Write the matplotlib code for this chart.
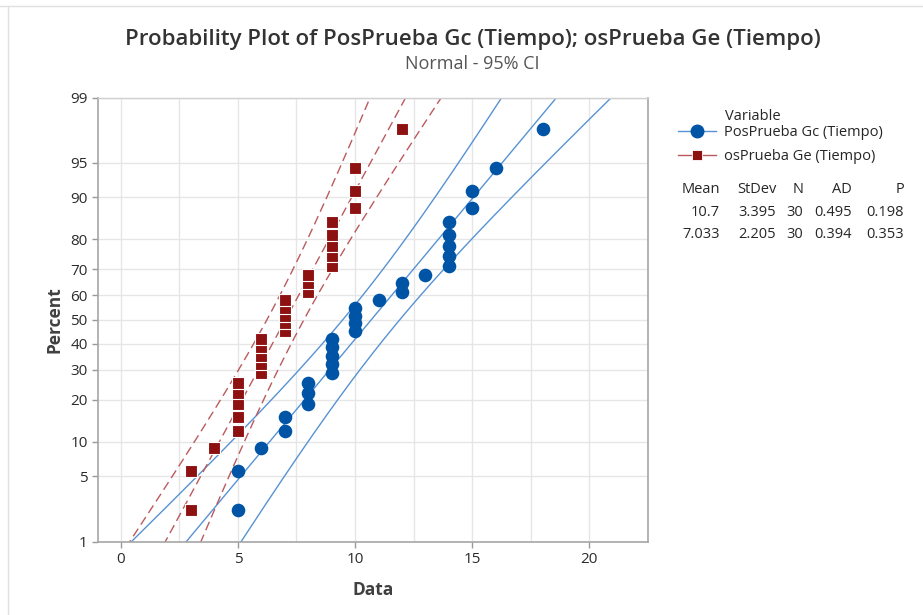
import numpy as np
import matplotlib
matplotlib.use('Agg')
import matplotlib.pyplot as plt
from matplotlib.lines import Line2D
from statistics import NormalDist

plt.rcParams['font.family'] = ['Open Sans', 'DejaVu Sans']

# Datos (30 valores por variable)
gc_values = [5, 5, 6, 7, 7, 8, 8, 8, 9, 9, 9, 9, 9, 10, 10, 10, 10, 11, 12, 12,
             13, 14, 14, 14, 14, 14, 15, 15, 16, 18]
ge_values = [3, 3, 4, 5, 5, 5, 5, 5, 6, 6, 6, 6, 6, 7, 7, 7, 7, 7, 8, 8,
             8, 9, 9, 9, 9, 9, 10, 10, 10, 12]
series_names = ['PosPrueba Gc (Tiempo)', 'osPrueba Ge (Tiempo)']
stats_header = ['Mean', 'StDev', 'N', 'AD', 'P']
stats_rows = [['10.7', '3.395', '30', '0.495', '0.198'],
              ['7.033', '2.205', '30', '0.394', '0.353']]
y_ticks = [1, 5, 10, 20, 30, 40, 50, 60, 70, 80, 90, 95, 99]
x_ticks = [0, 5, 10, 15, 20]

nd = NormalDist()
_ppf = np.vectorize(lambda p: nd.inv_cdf(min(max(p / 100.0, 1e-9), 1 - 1e-9)),
                    otypes=[float])
_cdf = np.vectorize(lambda z: nd.cdf(z) * 100.0, otypes=[float])


def forward(p):
    return _ppf(np.asarray(p, dtype=float))


def inverse(z):
    return _cdf(np.asarray(z, dtype=float))


fig = plt.figure(figsize=(9.23, 6.15), dpi=100)
ax = fig.add_axes([98 / 923, 1 - 541.5 / 615, 550 / 923, 444 / 615])
ax.set_yscale('function', functions=(forward, inverse))

styles = [
    dict(mc='#0054a6', lc='#5793d3', marker='o', ms=9.8, ls='-'),
    dict(mc='#8e1111', lc='#bb5a5e', marker='s', ms=8, ls=(0, (6.5, 3.5))),
]

pgrid = np.linspace(0.2, 99.8, 400)
zgrid = forward(pgrid)

for vals, st in zip([gc_values, ge_values], styles):
    data = np.sort(np.array(vals, dtype=float))
    n = len(data)
    mu = data.mean()
    sd = data.std(ddof=1)
    # posiciones de Minitab (rangos medianos)
    pct = (np.arange(1, n + 1) - 0.3) / (n + 0.4) * 100
    fit = mu + zgrid * sd
    half = 1.96 * sd * np.sqrt(1.0 / n + zgrid ** 2 / (2 * n))
    for xs in (fit - half, fit, fit + half):
        ax.plot(xs, pgrid, color=st['lc'], lw=1.0, ls=st['ls'], zorder=2)
    ax.plot(data, pct, ls='none', marker=st['marker'], ms=st['ms'],
            mfc=st['mc'], mec='white' if st['marker'] == 's' else st['mc'],
            mew=0.8 if st['marker'] == 's' else 0, zorder=3)

ax.set_xlim(-0.97, 22.1)
ax.set_ylim(1, 99)
ax.set_yticks(y_ticks)
ax.set_yticklabels([str(t) for t in y_ticks])
ax.yaxis.set_minor_locator(matplotlib.ticker.NullLocator())
ax.set_xticks(x_ticks)
ax.set_xticks(np.arange(0, 22.6, 2.5), minor=True)
ax.grid(True, which='major', color='#e6e6e6', lw=1.0, zorder=0)
ax.grid(True, which='minor', axis='x', color='#e6e6e6', lw=1.0, zorder=0)
ax.set_axisbelow(True)
ax.tick_params(axis='both', which='major', labelsize=11, colors='#999999',
               labelcolor='#2b2b2b', length=4, width=1)
ax.tick_params(axis='x', which='minor', length=0)
for side in ['left', 'bottom', 'right']:
    ax.spines[side].set_color('#a6a6a6')
    ax.spines[side].set_linewidth(1.2)
ax.spines['top'].set_color('#d0d0d0')
ax.spines['top'].set_linewidth(1.0)

ax.set_xlabel('Data', fontsize=12.5, fontweight='bold', color='#404040', labelpad=10)
ax.set_ylabel('Percent', fontsize=12.5, fontweight='bold', color='#404040', labelpad=5)

fig.text(0.512, 1 - 40 / 615, 'Probability Plot of PosPrueba Gc (Tiempo); osPrueba Ge (Tiempo)',
         ha='center', va='center', fontsize=16, fontweight='semibold', color='#333333')
fig.text(0.512, 1 - 64 / 615, 'Normal - 95% CI', ha='center', va='center',
         fontsize=13, color='#555555')

# Leyenda
handles = [Line2D([], [], color=styles[0]['lc'], lw=1.0, marker='o', ms=9,
                  mfc=styles[0]['mc'], mec=styles[0]['mc']),
           Line2D([], [], color=styles[1]['lc'], lw=1.0, marker='s', ms=7,
                  mfc=styles[1]['mc'], mec='white', mew=0.6)]
fig.text(725 / 923, 1 - 116 / 615, 'Variable', ha='left', va='center', fontsize=10.5,
         color='#262626')
leg = fig.legend(handles, series_names, loc='upper left',
                 bbox_to_anchor=(678 / 923, 1 - 125 / 615), frameon=False,
                 fontsize=10.5, handlelength=2.6, handletextpad=0.55,
                 labelspacing=0.62, borderpad=0, borderaxespad=0)
for t in leg.get_texts():
    t.set_color('#262626')

# Tabla de estadisticos
col_right = [720, 776, 803, 852, 904]
row_y = [189, 213, 234]
for j, h in enumerate(stats_header):
    fig.text(col_right[j] / 923, 1 - row_y[0] / 615, h, ha='right', va='center',
             fontsize=10.5, color='#262626')
for i, row in enumerate(stats_rows):
    for j, v in enumerate(row):
        fig.text(col_right[j] / 923, 1 - row_y[i + 1] / 615, v, ha='right', va='center',
                 fontsize=10.5, color='#262626')

# marco tenue de la captura
fig.add_artist(Line2D([0, 1], [1 - 6 / 615, 1 - 6 / 615], transform=fig.transFigure,
                      color='#e0e0e0', lw=1))
fig.add_artist(Line2D([8 / 923, 8 / 923], [0, 1 - 6 / 615], transform=fig.transFigure,
                      color='#e0e0e0', lw=1))

fig.savefig('out.png', dpi=100)
plt.close(fig)
